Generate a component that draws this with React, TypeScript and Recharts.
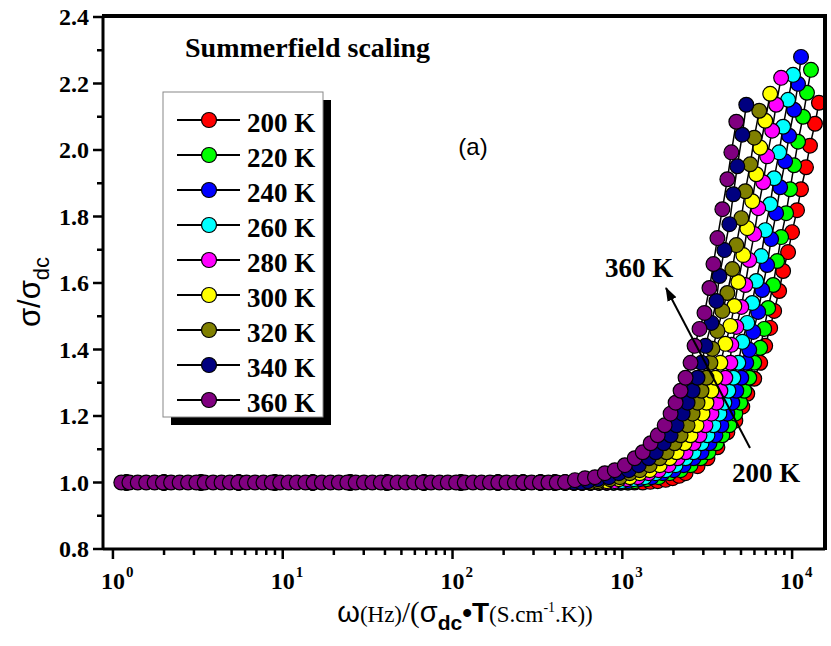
import { ScatterChart, Scatter, XAxis, YAxis } from 'recharts'

const TEMPS = ['200 K', '220 K', '240 K', '260 K', '280 K', '300 K', '320 K', '340 K', '360 K']
const COLORS = ['#ff0000', '#00ff00', '#0000ff', '#00ffff', '#ff00ff', '#ffff00', '#808000', '#000080', '#800080']

// [ω/(σdc·T), σ/σdc]
const S200 = [[1.2, 1], [2, 1], [3.3, 1], [5.5, 1], [9, 1], [15, 1], [25, 1], [41, 1], [68, 1], [112, 1], [185, 1], [260, 1], [330, 1], [400, 1], [460, 1], [520, 1], [580, 1], [650, 1], [730, 1], [810, 1], [890, 1], [980, 1], [1080, 1], [1180, 1], [1319, 1], [1460, 1.002], [1616, 1.004], [1800, 1.008], [1979, 1.013], [2160, 1.02], [2358, 1.028], [2773, 1.049], [3173, 1.073], [3631, 1.106], [4156, 1.151], [4630, 1.186], [5088, 1.228], [5444, 1.267], [5983, 1.312], [6489, 1.36], [6942, 1.411], [7427, 1.465], [7839, 1.516], [8386, 1.576], [8852, 1.636], [9468, 1.693], [9994, 1.753], [10690, 1.819], [11285, 1.882], [12074, 1.948], [12742, 2.013], [13634, 2.079], [14386, 2.142]]
const S220 = [[1.2, 1], [2, 1], [3.3, 1], [5.5, 1], [9, 1], [15, 1], [25, 1], [41, 1], [68, 1], [112, 1], [185, 1], [260, 1], [330, 1], [400, 1], [460, 1], [520, 1], [580, 1], [650, 1], [730, 1], [810, 1], [890, 1], [980, 1], [1080, 1], [1183, 1.004], [1393, 1.01], [1638, 1.016], [1900, 1.028], [2204, 1.037], [2523, 1.052], [2888, 1.073], [3216, 1.091], [3583, 1.118], [3883, 1.142], [4270, 1.172], [4630, 1.207], [4952, 1.24], [5228, 1.276], [5593, 1.315], [5983, 1.36], [6489, 1.405], [6849, 1.462], [7228, 1.525], [7734, 1.594], [8162, 1.666], [8616, 1.738], [9219, 1.81], [9728, 1.882], [10268, 1.954], [10836, 2.025], [11594, 2.1], [12236, 2.172], [12915, 2.241]]
const S240 = [[1.2, 1], [2, 1], [3.3, 1], [5.5, 1], [9, 1], [15, 1], [25, 1], [41, 1], [68, 1], [112, 1], [185, 1], [260, 1], [330, 1], [400, 1], [460, 1], [520, 1], [580, 1], [650, 1], [730, 1], [810, 1], [890, 1], [980, 1], [1077, 1.004], [1267, 1.01], [1489, 1.016], [1729, 1.028], [2006, 1.037], [2296, 1.052], [2628, 1.073], [2927, 1.091], [3260, 1.118], [3535, 1.142], [3831, 1.172], [4156, 1.207], [4446, 1.24], [4693, 1.276], [5020, 1.315], [5371, 1.36], [5593, 1.399], [5903, 1.453], [6316, 1.513], [6666, 1.579], [7131, 1.654], [7528, 1.732], [8054, 1.81], [8500, 1.888], [9095, 1.966], [9597, 2.043], [10268, 2.121], [10836, 2.199], [11285, 2.28]]
const S260 = [[1.2, 1], [2, 1], [3.3, 1], [5.5, 1], [9, 1], [15, 1], [25, 1], [41, 1], [68, 1], [112, 1], [185, 1], [260, 1], [330, 1], [400, 1], [460, 1], [520, 1], [580, 1], [650, 1], [730, 1], [810, 1], [890, 1], [993, 1.004], [1169, 1.01], [1355, 1.016], [1574, 1.028], [1800, 1.037], [2060, 1.052], [2358, 1.073], [2628, 1.091], [2927, 1.118], [3173, 1.142], [3441, 1.172], [3731, 1.207], [3990, 1.24], [4213, 1.276], [4507, 1.315], [4821, 1.36], [5088, 1.423], [5444, 1.48], [5824, 1.54], [6148, 1.606], [6577, 1.681], [6942, 1.759], [7427, 1.837], [7839, 1.915], [8386, 1.993], [8852, 2.07], [9468, 2.151], [10130, 2.226]]
const S280 = [[1.2, 1], [2, 1], [3.3, 1], [5.5, 1], [9, 1], [15, 1], [25, 1], [41, 1], [68, 1], [112, 1], [185, 1], [260, 1], [330, 1], [400, 1], [460, 1], [520, 1], [580, 1], [650, 1], [730, 1], [810, 1], [903, 1.004], [1063, 1.01], [1233, 1.016], [1431, 1.028], [1638, 1.037], [1874, 1.052], [2117, 1.073], [2358, 1.091], [2628, 1.118], [2849, 1.142], [3089, 1.172], [3349, 1.207], [3583, 1.24], [3781, 1.276], [4044, 1.315], [4328, 1.36], [4387, 1.414], [4693, 1.468], [5020, 1.528], [5299, 1.594], [5593, 1.669], [5983, 1.747], [6316, 1.825], [6757, 1.903], [7131, 1.981], [7630, 2.058], [8054, 2.136], [8616, 2.217]]
const S300 = [[1.2, 1], [2, 1], [3.3, 1], [5.5, 1], [9, 1], [15, 1], [25, 1], [41, 1], [68, 1], [112, 1], [185, 1], [260, 1], [330, 1], [400, 1], [460, 1], [520, 1], [580, 1], [650, 1], [720, 1], [811, 1.004], [954, 1.01], [1107, 1.016], [1267, 1.028], [1449, 1.037], [1660, 1.052], [1900, 1.073], [2088, 1.091], [2326, 1.118], [2523, 1.142], [2736, 1.172], [2967, 1.207], [3131, 1.24], [3349, 1.276], [3535, 1.315], [3781, 1.36], [4044, 1.417], [4328, 1.471], [4568, 1.531], [4821, 1.603], [5158, 1.684], [5444, 1.765], [5824, 1.846], [6148, 1.927], [6489, 2.007], [6942, 2.088], [7427, 2.169]]
const S320 = [[1.2, 1], [2, 1], [3.3, 1], [5.5, 1], [9, 1], [15, 1], [25, 1], [41, 1], [68, 1], [112, 1], [185, 1], [260, 1], [330, 1], [400, 1], [460, 1], [520, 1], [580, 1], [645, 1], [718, 1.004], [845, 1.01], [967, 1.016], [1107, 1.028], [1267, 1.037], [1449, 1.052], [1660, 1.073], [1824, 1.091], [2032, 1.118], [2204, 1.142], [2423, 1.172], [2593, 1.207], [2773, 1.24], [2927, 1.276], [3131, 1.315], [3304, 1.36], [3395, 1.402], [3631, 1.456], [3883, 1.516], [4156, 1.57], [4446, 1.642], [4693, 1.714], [5020, 1.795], [5299, 1.876], [5669, 1.957], [5983, 2.037], [6402, 2.118]]
const S340 = [[1.2, 1], [2, 1], [3.3, 1], [5.5, 1], [9, 1], [15, 1], [25, 1], [41, 1], [68, 1], [112, 1], [185, 1], [260, 1], [330, 1], [400, 1], [460, 1], [520, 1], [575, 1], [628, 1.004], [718, 1.01], [833, 1.016], [954, 1.028], [1092, 1.037], [1250, 1.052], [1431, 1.073], [1574, 1.091], [1752, 1.118], [1925, 1.142], [2088, 1.172], [2265, 1.207], [2423, 1.24], [2593, 1.276], [2773, 1.315], [2927, 1.36], [3089, 1.411], [3349, 1.48], [3583, 1.546], [3731, 1.621], [3990, 1.699], [4270, 1.777], [4507, 1.867], [4756, 1.951], [5088, 2.046], [5371, 2.136]]
const S360 = [[1.12, 1], [1.25, 1], [1.4, 1], [1.57, 1], [1.76, 1], [1.97, 1], [2.2, 1], [2.47, 1], [2.77, 1], [3.1, 1], [3.47, 1], [3.89, 1], [4.36, 1], [4.88, 1], [5.47, 1], [6.13, 1], [6.87, 1], [7.7, 1], [8.62, 1], [9.66, 1], [10.8, 1], [12.1, 1], [13.6, 1], [15.2, 1], [17, 1], [19.1, 1], [21.4, 1], [24, 1], [26.9, 1], [30.1, 1], [33.7, 1], [37.8, 1], [42.3, 1], [47.4, 1], [53.1, 1], [59.5, 1], [66.7, 1], [74.7, 1], [83.7, 1], [93.8, 1], [105, 1], [118, 1], [132, 1], [148, 1], [166, 1], [186, 1], [208, 1], [233, 1], [261, 1], [292, 1], [327, 1], [367, 1], [411, 1], [460, 1.001], [526, 1.007], [603, 1.013], [690, 1.016], [789, 1.028], [903, 1.037], [1035, 1.052], [1183, 1.073], [1319, 1.091], [1469, 1.118], [1616, 1.142], [1776, 1.172], [1925, 1.207], [2060, 1.24], [2204, 1.276], [2358, 1.315], [2523, 1.36], [2664, 1.411], [2849, 1.462], [3048, 1.51], [3260, 1.585], [3441, 1.657], [3631, 1.735], [3883, 1.822], [4156, 1.912], [4387, 1.993], [4693, 2.085]]

const SERIES = [S200, S220, S240, S260, S280, S300, S320, S340, S360]

const X_TICKS = [1, 2, 3, 4, 5, 6, 7, 8, 9, 10, 20, 30, 40, 50, 60, 70, 80, 90, 100, 200, 300, 400, 500, 600, 700, 800, 900, 1000, 2000, 3000, 4000, 5000, 6000, 7000, 8000, 9000, 10000]
const X_MAJOR = [1, 10, 100, 1000, 10000]
const X_EXP = ['0', '1', '2', '3', '4']
const Y_TICKS = [0.8, 0.9, 1.0, 1.1, 1.2, 1.3, 1.4, 1.5, 1.6, 1.7, 1.8, 1.9, 2.0, 2.1, 2.2, 2.3, 2.4]
const Y_LABELS = ['0.8', '1.0', '1.2', '1.4', '1.6', '1.8', '2.0', '2.2', '2.4']

const X_DOMAIN = [0.874, 15620]
const Y_DOMAIN = [0.8, 2.4]

const SERIF = '"Liberation Serif", "Times New Roman", serif'
const SANS = '"Liberation Sans", Arial, sans-serif'

const XTick = (props: any) => {
    const { x, y, payload } = props
    const idx = X_MAJOR.indexOf(payload.value)
    const major = idx >= 0
    return (
        <g>
            <line x1={x} x2={x} y1={y} y2={y + (major ? 10 : 6)} stroke="#000" strokeWidth={2.5} />
            {major && (
                <text fontFamily={SERIF} fontWeight="bold" fill="#000">
                    <tspan x={x} y={y + 40} textAnchor="middle" fontSize={24}>10</tspan>
                    <tspan x={x + 13} y={y + 28} fontSize={15}>{X_EXP[idx]}</tspan>
                </text>
            )}
        </g>
    )
}

const YTick = (props: any) => {
    const { x, y, payload } = props
    const label = payload.value.toFixed(1)
    const major = Y_LABELS.includes(label)
    return (
        <g>
            <line x1={x - (major ? 10 : 6)} x2={x} y1={y} y2={y} stroke="#000" strokeWidth={2.5} />
            {major && (
                <text x={x - 14} y={y + 8} textAnchor="end" fontFamily={SERIF} fontWeight="bold" fontSize={24} fill="#000">
                    {label}
                </text>
            )}
        </g>
    )
}

const Dot = (color: string) => (props: any) => (
    <circle cx={props.cx} cy={props.cy} r={7.4} fill={color} stroke="#000" strokeWidth={1.2} />
)

const Overlay = () => (
    <svg width={831} height={646} viewBox="0 0 831 646" style={{ position: 'absolute', left: 0, top: 0, pointerEvents: 'none', zIndex: 2 }}>
        <defs>
            <marker id="head" markerWidth="14" markerHeight="12" refX="13" refY="6" orient="auto" markerUnits="userSpaceOnUse">
                <path d="M0,1 L14,6 L0,11 z" fill="#000" />
            </marker>
        </defs>

        {/* top and right sides of the plot frame */}
        <rect x={102} y={14} width={725} height={4} fill="#000" />
        <rect x={823} y={14} width={4} height={536} fill="#000" />

        <text x={185} y={57} fontFamily={SERIF} fontWeight="bold" fontSize={28} fill="#000">Summerfield scaling</text>
        <text x={473} y={155} textAnchor="middle" fontFamily={SANS} fontSize={24} fill="#000">(a)</text>

        <rect x={171} y={100} width={160} height={325} fill="#000" />
        <rect x={163} y={92} width={160} height={325} fill="#fff" stroke="#888" strokeWidth={1} />
        {TEMPS.map((t, i) => {
            const cy = 120 + i * 35
            return (
                <g key={t}>
                    <line x1={177} x2={240} y1={cy} y2={cy} stroke="#000" strokeWidth={2} />
                    <circle cx={209} cy={cy} r={7.5} fill={COLORS[i]} stroke="#000" strokeWidth={1.2} />
                    <text x={247} y={cy + 11.5} fontFamily={SERIF} fontWeight="bold" fontSize={27} fill="#000">{t}</text>
                </g>
            )
        })}

        <line x1={750} y1={448} x2={666} y2={288} stroke="#000" strokeWidth={2} markerEnd="url(#head)" />
        <text x={605} y={277} fontFamily={SERIF} fontWeight="bold" fontSize={27} fill="#000">360 K</text>
        <text x={732} y={482} fontFamily={SERIF} fontWeight="bold" fontSize={27} fill="#000">200 K</text>

        <text x={465} y={622} textAnchor="middle" fill="#000">
            <tspan fontFamily={SANS} fontSize={29}>ω</tspan>
            <tspan fontFamily={SERIF} fontSize={23}>(Hz)</tspan>
            <tspan fontFamily={SERIF} fontSize={29}>/(</tspan>
            <tspan fontFamily={SANS} fontSize={29}>σ</tspan>
            <tspan fontFamily={SANS} fontWeight="bold" fontSize={21} dy={8}>dc</tspan>
            <tspan fontFamily={SANS} fontWeight="bold" fontSize={28} dy={-8}>•T</tspan>
            <tspan fontFamily={SERIF} fontSize={23}>(S.cm</tspan>
            <tspan fontFamily={SERIF} fontSize={14} dy={-10}>-1</tspan>
            <tspan fontFamily={SERIF} fontSize={23} dy={10}>.K))</tspan>
        </text>
        <text x={40} y={292} transform="rotate(-90, 40, 292)" textAnchor="middle" fill="#000">
            <tspan fontFamily={SANS} fontSize={31}>σ/σ</tspan>
            <tspan fontFamily={SANS} fontSize={22} dy={9}>dc</tspan>
        </text>
    </svg>
)

export default function App() {
    return (
        <div style={{ position: 'absolute', left: 0, top: 0, width: 831, height: 646, background: '#fff', overflow: 'hidden' }}>
            <ScatterChart width={831} height={646} margin={{ top: 17, right: 6, bottom: 37, left: 43 }}>
                <XAxis
                    type="number"
                    dataKey="x"
                    scale="log"
                    domain={X_DOMAIN}
                    allowDataOverflow
                    ticks={X_TICKS}
                    interval={0}
                    height={60}
                    tickSize={0}
                    tickMargin={0}
                    tickLine={false}
                    axisLine={{ stroke: '#000', strokeWidth: 3 }}
                    tick={(p: any) => <XTick {...p} />}
                />
                <YAxis
                    type="number"
                    dataKey="y"
                    domain={Y_DOMAIN}
                    allowDataOverflow
                    ticks={Y_TICKS}
                    interval={0}
                    width={60}
                    tickSize={0}
                    tickMargin={0}
                    tickLine={false}
                    axisLine={{ stroke: '#000', strokeWidth: 3 }}
                    tick={(p: any) => <YTick {...p} />}
                />
                {SERIES.map((s, i) => (
                    <Scatter
                        key={TEMPS[i]}
                        name={TEMPS[i]}
                        data={s.map(([x, y]) => ({ x, y }))}
                        line={{ stroke: '#000', strokeWidth: 1.5 }}
                        lineType="joint"
                        shape={Dot(COLORS[i])}
                        isAnimationActive={false}
                    />
                ))}
            </ScatterChart>
            <Overlay />
        </div>
    )
}
